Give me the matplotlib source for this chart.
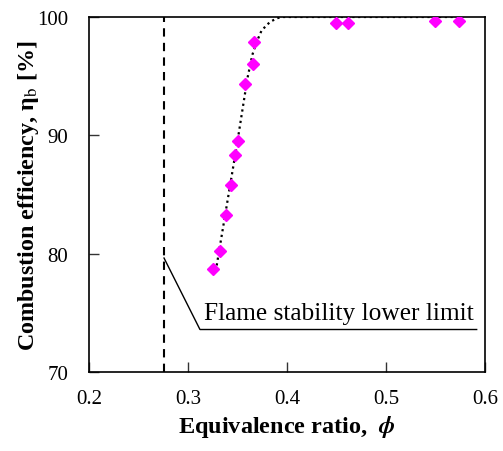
import matplotlib
matplotlib.use("Agg")
import matplotlib.pyplot as plt

plt.rcParams['font.family'] = ['Liberation Serif', 'DejaVu Serif']
plt.rcParams['mathtext.fontset'] = 'stix'

# measured data
phi = [0.325, 0.332, 0.338, 0.343, 0.3475, 0.3505, 0.3576, 0.3657, 0.3667,
       0.450, 0.4616, 0.550, 0.5734]
eta = [78.7, 80.2, 83.3, 85.8, 88.3, 89.5, 94.3, 96.0, 97.9,
       99.5, 99.5, 99.65, 99.65]

# fitted curve
fit_phi = [0.329, 0.340, 0.350, 0.360, 0.365, 0.3694, 0.3744, 0.3828, 0.390, 0.396, 0.575]
fit_eta = [79.0, 84.5, 89.5, 94.8, 96.8, 97.9, 98.87, 99.58, 99.9, 100.0, 100.0]

limit_phi = 0.276
label_text = "Flame stability lower limit"

fig = plt.figure(figsize=(5.03, 4.52), dpi=100)
ax = fig.add_axes([0.1769, 0.1748, 0.7873, 0.7854])

ax.plot(fit_phi, fit_eta, color='black', linestyle=(0, (1, 1.6)), linewidth=1.6, zorder=2)
ax.plot(phi, eta, linestyle='none', marker='D', markersize=6.5, color='#ff00ff',
        markeredgecolor='#ff00ff', zorder=3)
ax.axvline(limit_phi, color='black', linestyle=(0, (4, 3)), linewidth=1.5, zorder=1)

# annotation leader
ax.plot([0.2758, 0.3121, 0.5916], [79.63, 73.59, 73.59], color='black', linewidth=1.0)
ax.text(0.3165, 74.05, label_text, fontsize=18.3, ha='left', va='bottom')

ax.set_xlim(0.2, 0.6)
ax.set_ylim(70, 100)
ax.set_xticks([0.2, 0.3, 0.4, 0.5, 0.6])
ax.set_xticklabels(['0.2', '0.3', '0.4', '0.5', '0.6'])
ax.set_yticks([70, 80, 90, 100])
ax.tick_params(direction='in', length=7, width=1, labelsize=15, pad=12,
               top=False, right=False, colors='#333333', labelcolor='black')
ax.tick_params(axis='y', pad=15)
for s in ax.spines.values():
    s.set_linewidth(1.2)

ax.set_xlabel(r'Equivalence ratio,  $\boldsymbol{\phi}$', fontsize=17.5, fontweight='bold', labelpad=4)
ax.set_ylabel('Combustion efficiency, η$_\\mathrm{b}$ [%]', fontsize=17.3, fontweight='bold', labelpad=-3)

fig.savefig('out.png', dpi=100)
